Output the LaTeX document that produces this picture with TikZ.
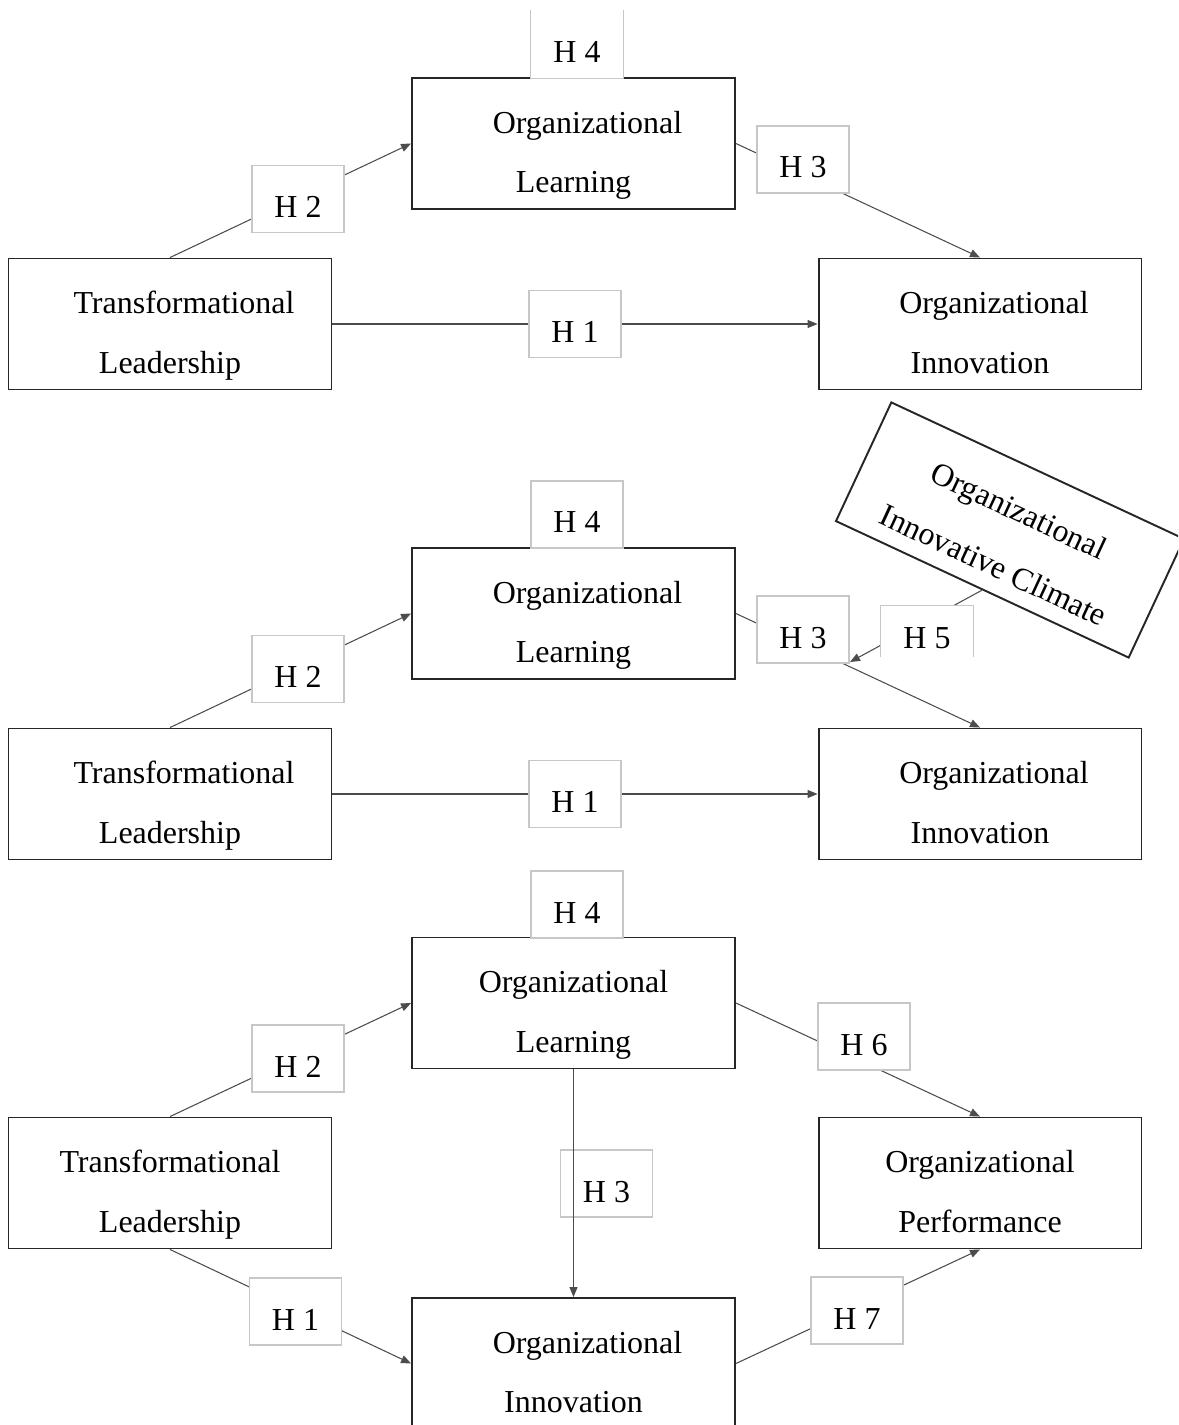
\documentclass[tikz,border=0pt]{standalone}
\usepackage{fontspec}
\setmainfont{Liberation Serif}
\usepackage{tikz}
\usetikzlibrary{positioning,arrows.meta,calc}

\newcommand{\boxlines}[2]{\rule{0pt}{0.98cm}#1\\#2\rule[-0.2cm]{0pt}{0.2cm}}
\newcommand{\firstindent}{\hspace*{0.56cm}}

\begin{document}
\begin{tikzpicture}[x=0.02cm, y=-0.02cm,
    construct/.style={rectangle, draw=black!85, line width=1.1pt, minimum width=6.46cm, minimum height=2.62cm, inner sep=0pt, align=center, font=\fontsize{18.2pt}{34.1pt}\selectfont},
    hlabel/.style={rectangle, draw=black!22, fill=white, line width=0.6pt, minimum width=1.84cm, minimum height=1.34cm, inner sep=0pt, text height=0.74cm, text depth=0pt, font=\fontsize{18.2pt}{34.1pt}\selectfont},
    conn/.style={draw=black!70, line width=0.6pt},
    arrow/.style={conn, -{Triangle[length=0.2cm, width=0.16cm]}}
]
\useasboundingbox (0,0) rectangle (1178,1425);
\clip (0,0) rectangle (1178,1425);

% Model 1
\node[construct] (olA) at (573.5,143.5) {\boxlines{\firstindent Organizational}{Learning}};
\node[construct] (tlA) at (170,324) {\boxlines{\firstindent Transformational}{Leadership}};
\node[construct] (oiA) at (980,324) {\boxlines{\firstindent Organizational}{Innovation}};

\draw[arrow] (tlA.north) -- (olA.west);
\draw[arrow] (olA.east) -- (oiA.north);
\draw[arrow] (tlA.east) -- (oiA.west);

\node[hlabel, draw=none] (h4A) at (577,44.5) {H 4};
\draw[draw=black!22, line width=0.6pt] (h4A.north west) |- (h4A.south east) -- (h4A.north east);
\node[hlabel] (h2A) at (298,199) {H 2};
\node[hlabel] (h3A) at (803,159.5) {H 3};
\node[hlabel] (h1A) at (575,324) {H 1};

% Model 2
\node[construct] (olB) at (573.5,613.5) {\boxlines{\firstindent Organizational}{Learning}};
\node[construct] (tlB) at (170,794) {\boxlines{\firstindent Transformational}{Leadership}};
\node[construct] (oiB) at (980,794) {\boxlines{\firstindent Organizational}{Innovation}};
\node[construct, rotate=-25] (climB) at (1010,530) {\boxlines{Organizational}{Innovative Climate}};
\coordinate (h5tip) at (850,662);

\draw[arrow] (tlB.north) -- (olB.west);
\draw[arrow] (olB.east) -- (oiB.north);
\draw[arrow] (tlB.east) -- (oiB.west);
\draw[arrow] (climB.south) -- (h5tip);

\node[hlabel] (h4B) at (577,514.5) {H 4};
\node[hlabel] (h2B) at (298,669) {H 2};
\node[hlabel] (h3B) at (803,629.5) {H 3};
\node[hlabel] (h1B) at (575,794) {H 1};
\node[hlabel, draw=none, minimum height=1cm, text height=0.68cm] (h5B) at (927,631) {H 5};
\draw[draw=black!22, line width=0.6pt] (h5B.south west) |- (h5B.north east) -- (h5B.south east);

% Model 3
\node[construct] (olC) at (573.5,1003) {\boxlines{Organizational}{Learning}};
\node[construct] (tlC) at (170,1183) {\boxlines{Transformational}{Leadership}};
\node[construct] (opC) at (980,1183) {\boxlines{Organizational}{Performance}};
\node[construct] (oiC) at (573.5,1363.5) {\boxlines{\firstindent Organizational}{Innovation}};

\draw[arrow] (tlC.north) -- (olC.west);
\draw[arrow] (olC.east) -- (opC.north);
\draw[arrow] (tlC.south) -- (oiC.west);
\draw[arrow] (oiC.east) -- (opC.south);

\node[hlabel] (h4C) at (577,904.5) {H 4};
\node[hlabel] (h2C) at (298,1058.5) {H 2};
\node[hlabel] (h6C) at (864,1036.5) {H 6};
\node[hlabel] (h3C) at (606.5,1183.5) {H 3};
\node[hlabel] (h1C) at (295.5,1311.5) {H 1};
\node[hlabel] (h7C) at (857,1310.5) {H 7};

\draw[arrow] (olC.south) -- (oiC.north);

\end{tikzpicture}
\end{document}
